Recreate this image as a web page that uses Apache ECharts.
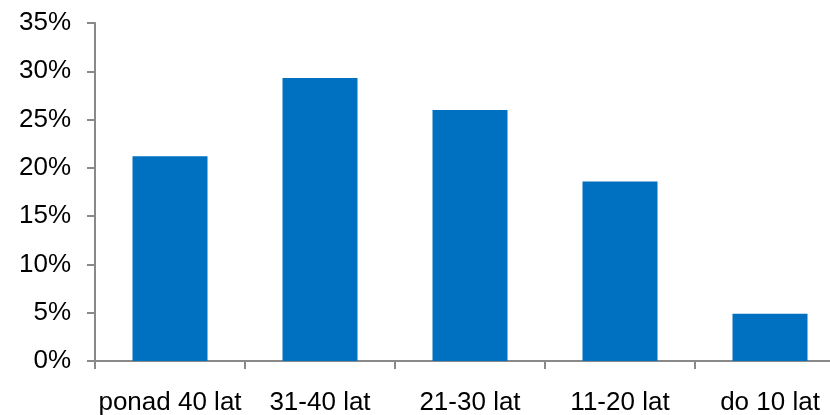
<!DOCTYPE html>
<html>
<head>
<meta charset="utf-8">
<script src="https://cdn.jsdelivr.net/npm/echarts@6/dist/echarts.min.js"></script>
<style>
  html, body { margin: 0; padding: 0; background: #fff; }
  #main { width: 830px; height: 415px; }
</style>
</head>
<body>
<div id="main"></div>
<script>
const categories = ['ponad 40 lat', '31-40 lat', '21-30 lat', '11-20 lat', 'do 10 lat'];
const shares = [21.2, 29.3, 26.0, 18.6, 4.9];

const axisColor = '#898989';
const font = 'Liberation Sans, Arial, sans-serif';

let myChart = echarts.init(document.getElementById('main'));
let option = {
    animation: false,
    grid: { left: 95, top: 23, width: 750, height: 338, outerBoundsMode: 'none' },
    xAxis: {
        type: 'category',
        data: categories,
        axisLine: { lineStyle: { color: axisColor, width: 2 } },
        axisTick: { show: true, interval: 0, length: 8, lineStyle: { color: axisColor, width: 2 } },
        axisLabel: { interval: 0, color: '#000', fontSize: 26, fontFamily: font, margin: 29 }
    },
    yAxis: {
        type: 'value',
        min: 0,
        max: 35,
        interval: 5,
        splitLine: { show: false },
        axisLine: { show: true, lineStyle: { color: axisColor, width: 2 } },
        axisTick: { show: true, length: 8, lineStyle: { color: axisColor, width: 2 } },
        axisLabel: { color: '#000', fontSize: 26, fontFamily: font, margin: 24, formatter: '{value}%' }
    },
    series: [
        {
            type: 'bar',
            data: shares,
            barWidth: 75,
            itemStyle: { color: '#0070C0' }
        }
    ]
};
myChart.setOption(option);
</script>
</body>
</html>
